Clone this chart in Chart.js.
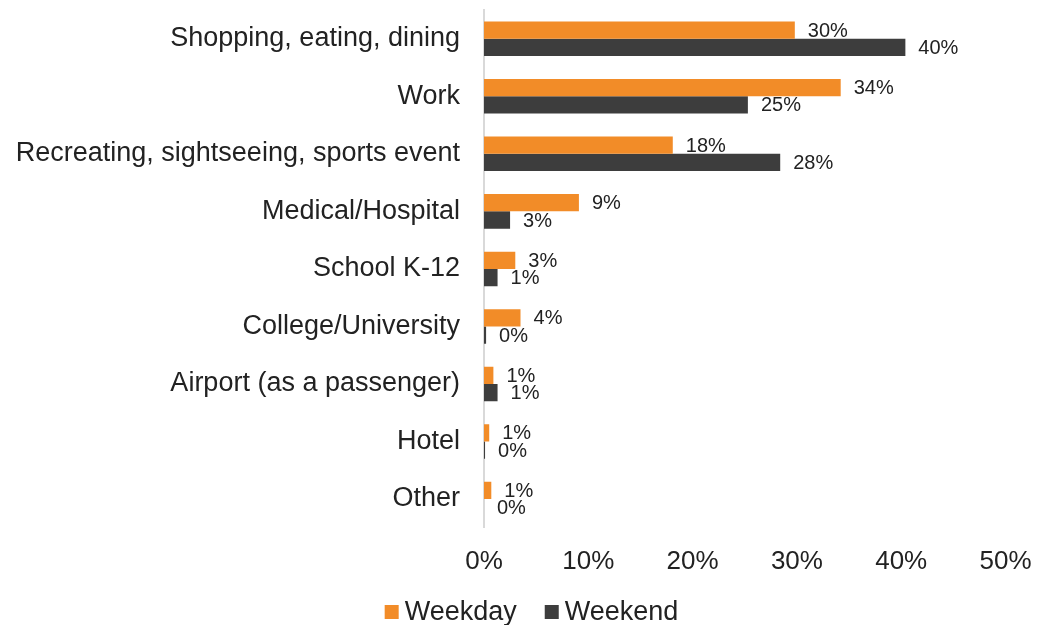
<!DOCTYPE html>
<html><head><meta charset="utf-8">
<script src="https://cdn.jsdelivr.net/npm/chart.js@4.4.0/dist/chart.umd.min.js"></script>
<style>html,body{margin:0;padding:0;background:#fff;}</style>
</head><body>
<canvas id="c" width="1037" height="625"></canvas>
<script>
const categories = ['Shopping, eating, dining','Work','Recreating, sightseeing, sports event','Medical/Hospital','School K-12','College/University','Airport (as a passenger)','Hotel','Other'];
const weekday = [29.8, 34.2, 18.1, 9.1, 3.0, 3.5, 0.9, 0.5, 0.7];
const weekend = [40.4, 25.3, 28.4, 2.5, 1.3, 0.2, 1.3, 0.1, 0.0];
const xTicks = [0, 10, 20, 30, 40, 50];
const seriesNames = ['Weekday', 'Weekend'];
const seriesColors = ['#F28C28', '#3D3D3D'];

const FONT = "'Liberation Sans', Arial, sans-serif";
const TEXT = '#222222';

const valueLabels = {
  id: 'valueLabels',
  afterDatasetsDraw(chart) {
    const ctx = chart.ctx;
    ctx.save();
    ctx.font = '20px ' + FONT;
    ctx.fillStyle = TEXT;
    ctx.textAlign = 'left';
    ctx.textBaseline = 'middle';
    chart.data.datasets.forEach((ds, i) => {
      const meta = chart.getDatasetMeta(i);
      meta.data.forEach((bar, j) => {
        ctx.fillText(Math.round(ds.data[j]) + '%', bar.x + 13, bar.y + 1);
      });
    });
    ctx.restore();
  }
};

const customLegend = {
  id: 'customLegend',
  afterDraw(chart) {
    const ctx = chart.ctx;
    ctx.save();
    ctx.font = '27px ' + FONT;
    const box = 14, gap = 6, itemGap = 28;
    const widths = seriesNames.map(n => ctx.measureText(n).width);
    const total = widths.reduce((a, w) => a + box + gap + w, 0) + itemGap * (seriesNames.length - 1);
    let x = 531.5 - total / 2;
    const baseY = 620;
    chart.data.datasets.forEach((ds, i) => {
      ctx.fillStyle = ds.backgroundColor;
      ctx.fillRect(x, baseY - 15, box, box);
      ctx.fillStyle = TEXT;
      ctx.textAlign = 'left';
      ctx.textBaseline = 'alphabetic';
      ctx.fillText(ds.label, x + box + gap, baseY);
      x += box + gap + widths[i] + itemGap;
    });
    ctx.restore();
  }
};

new Chart(document.getElementById('c'), {
  type: 'bar',
  data: {
    labels: categories,
    datasets: [
      { label: seriesNames[0], data: weekday, backgroundColor: seriesColors[0], barPercentage: 1, categoryPercentage: 0.6 },
      { label: seriesNames[1], data: weekend, backgroundColor: seriesColors[1], barPercentage: 1, categoryPercentage: 0.6 }
    ]
  },
  options: {
    indexAxis: 'y',
    responsive: false,
    animation: false,
    layout: { padding: { left: 0, top: 10, right: 31.5, bottom: 30 } },
    plugins: { legend: { display: false }, tooltip: { enabled: false } },
    scales: {
      x: {
        min: xTicks[0], max: xTicks[xTicks.length - 1],
        afterBuildTicks(scale) { scale.ticks = xTicks.map(v => ({ value: v })); },
        afterFit(scale) { scale.paddingLeft = 0; scale.paddingRight = 0; },
        ticks: { callback: v => v + '%', font: { size: 26, family: FONT }, color: TEXT, padding: 18, maxRotation: 0 },
        grid: { display: false, drawTicks: false },
        border: { display: false }
      },
      y: {
        afterFit(scale) { scale.width = 484; scale.paddingTop = 0; scale.paddingBottom = 0; },
        ticks: { font: { size: 27, family: FONT }, color: TEXT, padding: 24 },
        grid: { display: false, drawTicks: false },
        border: { display: true, color: '#D9D9D9', width: 2 }
      }
    }
  },
  plugins: [valueLabels, customLegend]
});
</script>
</body></html>
